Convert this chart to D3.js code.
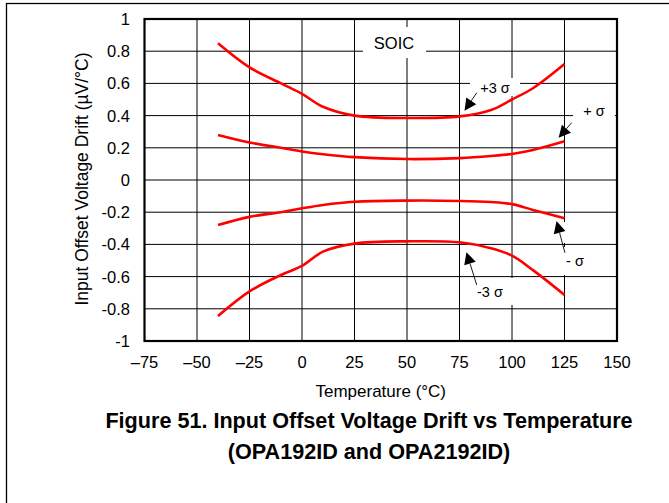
<!DOCTYPE html>
<html><head><meta charset="utf-8">
<script src="https://cdn.jsdelivr.net/npm/d3@7"></script>
<style>body{margin:0;background:#fff;} svg{display:block;font-family:"Liberation Sans",Arial,sans-serif;}</style>
</head><body>
<script>
const temps = [-40,-25,-10,0,10,25,50,75,90,100,110,125];
const plus3  = [0.85,0.70,0.60,0.535,0.455,0.40,0.385,0.395,0.435,0.50,0.57,0.72];
const plus1  = [0.28,0.233,0.20,0.177,0.16,0.142,0.13,0.136,0.149,0.162,0.186,0.24];
const minus1 = [-0.28,-0.229,-0.20,-0.176,-0.155,-0.135,-0.128,-0.13,-0.137,-0.15,-0.186,-0.238];
const minus3 = [-0.845,-0.692,-0.59,-0.534,-0.445,-0.395,-0.381,-0.387,-0.424,-0.47,-0.56,-0.714];
const xTicks = [-75,-50,-25,0,25,50,75,100,125,150];
const yTicks = [-1,-0.8,-0.6,-0.4,-0.2,0,0.2,0.4,0.6,0.8,1];
const labels = [
  {text:"+3 σ", tx:91.9, tv:0.571, ax:83.2, av:0.542, hx:77.4, hv:0.43},
  {text:"+ σ",  tx:139,  tv:0.429, ax:128.4,av:0.356, hx:122.2,hv:0.262},
  {text:"- σ",  tx:130,  tv:-0.503,ax:125.2,av:-0.452,hx:121.2,hv:-0.255},
  {text:"-3 σ", tx:89.5, tv:-0.696,ax:83.2, av:-0.652,hx:78.3, hv:-0.448}
];

const W=669,H=503;
const svg=d3.select("body").append("svg").attr("width",W).attr("height",H);
const L=144.5,R=617,T=19,B=341;
const x=d3.scaleLinear().domain([-75,150]).range([L,R]);
const y=d3.scaleLinear().domain([-1,1]).range([B,T]);

// outer frame
svg.append("rect").attr("x",6.5).attr("y",3.5).attr("width",W+20).attr("height",H+20)
  .attr("fill","none").attr("stroke","#000").attr("stroke-width",1.3);

// grid
const g=svg.append("g");
g.selectAll(".vg").data(xTicks).join("line").attr("x1",d=>x(d)).attr("x2",d=>x(d)).attr("y1",T).attr("y2",B)
  .attr("stroke","#000").attr("stroke-width",1);
g.selectAll(".hg").data(yTicks).join("line").attr("y1",d=>y(d)).attr("y2",d=>y(d)).attr("x1",L).attr("x2",R)
  .attr("stroke","#000").attr("stroke-width",1);

// white boxes behind annotations
const boxes=[[363,27,63,31],[470,78,50,18],[573,102,42,20],[557,247,33,28],[561,222,7,21],[470,278,50,27]];
svg.selectAll(".box").data(boxes).join("rect").attr("x",d=>d[0]).attr("y",d=>d[1]).attr("width",d=>d[2]).attr("height",d=>d[3]).attr("fill","#fff");

// curves
const line=d3.line().x(d=>x(d[0])).y(d=>y(d[1])).curve(d3.curveCatmullRom.alpha(0.5));
[plus3,plus1,minus1,minus3].forEach(s=>{
  svg.append("path").attr("d",line(temps.map((t,i)=>[t,s[i]]))).attr("fill","none")
    .attr("stroke","#ff0000").attr("stroke-width",2.6);
});

// arrows
labels.forEach(a=>{
  const x0=x(a.ax),y0=y(a.av),x1=x(a.hx),y1=y(a.hv);
  const dx=x1-x0,dy=y1-y0,len=Math.hypot(dx,dy),ux=dx/len,uy=dy/len;
  const hl=12,hw=6;
  const bx=x1-ux*hl,by=y1-uy*hl;
  svg.append("line").attr("x1",x0).attr("y1",y0).attr("x2",bx).attr("y2",by).attr("stroke","#000").attr("stroke-width",0.9);
  svg.append("path").attr("d",`M${x1},${y1}L${bx-uy*hw},${by+ux*hw}L${bx+uy*hw},${by-ux*hw}Z`).attr("fill","#000");
  svg.append("text").attr("x",x(a.tx)).attr("y",y(a.tv)).attr("text-anchor","middle").attr("dominant-baseline","central")
    .attr("font-size",14.5).text(a.text);
});
svg.append("text").attr("x",394).attr("y",43).attr("text-anchor","middle").attr("dominant-baseline","central").attr("font-size",16.5).text("SOIC");

// plot border
svg.append("rect").attr("x",L).attr("y",T).attr("width",R-L).attr("height",B-T).attr("fill","none").attr("stroke","#000").attr("stroke-width",2.2);

// tick labels
svg.selectAll(".yl").data(yTicks).join("text").attr("x",130).attr("y",d=>y(d)).attr("text-anchor","end")
  .attr("dominant-baseline","central").attr("font-size",16.5).text(d=>d3.format("")(d).replace("−","-"));
svg.selectAll(".xl").data(xTicks).join("text").attr("x",d=>x(d)).attr("y",368).attr("text-anchor","middle")
  .attr("font-size",16.5).text(d=>d<0?"–"+Math.abs(d):d);

// axis titles
svg.append("text").attr("x",(L+R)/2).attr("y",397).attr("text-anchor","middle").attr("font-size",17).text("Temperature (°C)");
svg.append("text").attr("transform","translate(88,179) rotate(-90)").attr("text-anchor","middle").attr("font-size",17.5).text("Input Offset Voltage Drift (µV/°C)");

// caption
svg.append("text").attr("x",369).attr("y",428).attr("text-anchor","middle").attr("font-size",21.6).attr("font-weight","bold").text("Figure 51. Input Offset Voltage Drift vs Temperature");
svg.append("text").attr("x",369).attr("y",459).attr("text-anchor","middle").attr("font-size",21.6).attr("font-weight","bold").text("(OPA192ID and OPA2192ID)");
</script>
</body></html>
